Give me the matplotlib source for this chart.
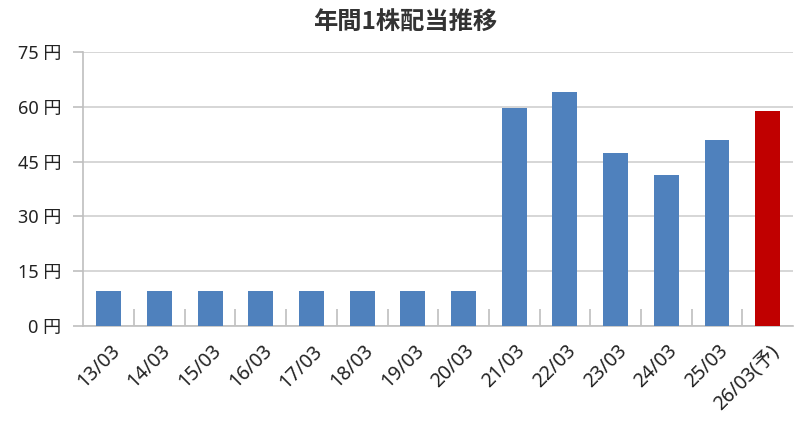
import matplotlib
matplotlib.use("Agg")
import matplotlib.pyplot as plt
import matplotlib.transforms as mtransforms
import numpy as np

plt.rcParams["font.family"] = ["Noto Sans", "Noto Sans CJK JP", "DejaVu Sans"]

# data
periods = ["13/03", "14/03", "15/03", "16/03", "17/03", "18/03", "19/03",
           "20/03", "21/03", "22/03", "23/03", "24/03", "25/03", "26/03(予)"]
dividends = [9.7, 9.7, 9.7, 9.7, 9.7, 9.7, 9.7,
             9.7, 59.6, 64.1, 47.4, 41.4, 51.0, 58.7]
forecast = [False] * 13 + [True]
y_ticks = [0, 15, 30, 45, 60, 75]

BLUE = "#4F81BD"
RED = "#C00000"
GRID = "#D0D0D0"
AXIS = "#BFBFBF"

fig = plt.figure(figsize=(8.1, 4.21), dpi=100)
ax = fig.add_axes([0.103, 0.2257, 0.876, 0.651])

x = np.arange(len(periods))
colors = [RED if f else BLUE for f in forecast]
ax.bar(x, dividends, width=0.49, color=colors, zorder=3)

ax.set_xlim(-0.5, len(periods) - 0.5)
ax.set_ylim(0, 75)

# y axis
ax.set_yticks(y_ticks)
ax.set_yticklabels([f"{v} 円" for v in y_ticks], fontsize=13, color="#222222")
ax.tick_params(axis="y", length=7, color=AXIS, width=1.2, pad=9)
ax.grid(axis="y", color=GRID, linewidth=1.2, zorder=0)

# x axis: labels at centres, inward ticks at category boundaries
ax.set_xticks(x)
ax.tick_params(axis="x", which="major", length=0, pad=11)
ax.set_xticks(np.arange(0.5, len(periods) - 0.5), minor=True)
ax.tick_params(axis="x", which="minor", direction="in", length=12,
               color=AXIS, width=1.2)
ax.set_xticklabels(periods, rotation=45, ha="right", va="top",
                   rotation_mode="anchor", fontsize=14, color="#222222")
offset = mtransforms.ScaledTranslation(1 / 100, 0, fig.dpi_scale_trans)
for lbl in ax.get_xticklabels():
    lbl.set_transform(lbl.get_transform() + offset)

for side in ("top", "right"):
    ax.spines[side].set_visible(False)
for side in ("left", "bottom"):
    ax.spines[side].set_color(AXIS)
    ax.spines[side].set_linewidth(1.2)

fig.text(0.5, 0.947, "年間1株配当推移", ha="center", va="center",
         fontsize=17.5, fontweight="bold", color="#333333",
         family=["Noto Sans CJK JP", "DejaVu Sans"])

fig.savefig("out.png", dpi=100)
